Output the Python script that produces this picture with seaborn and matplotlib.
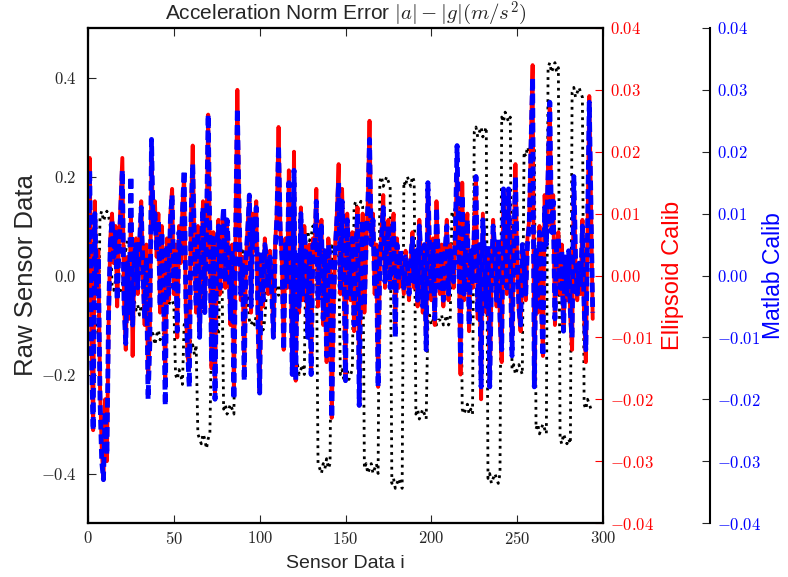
import numpy as np
import matplotlib
matplotlib.use("Agg")
import matplotlib.pyplot as plt
import seaborn as sns
from matplotlib.ticker import FuncFormatter, MultipleLocator

# Raw sensor data |a|-|g| (left axis)
raw = [
    -0.09, -0.10, -0.08, -0.11, -0.09, -0.10, -0.12,
    0.12, 0.13, 0.11, 0.12, 0.13, 0.12, 0.10,
    -0.02, -0.03, -0.01, -0.02, -0.04, -0.03, -0.02,
    0.06, 0.05, 0.07, 0.06, 0.05,
    -0.06, -0.05, -0.07, -0.06, -0.08, -0.06, -0.07, -0.05,
    -0.11, -0.12, -0.13, -0.11, -0.12, -0.14, -0.12, -0.11, -0.13, -0.12, -0.12,
    -0.05, -0.04, -0.06, -0.05, -0.05, -0.06,
    -0.20, -0.21, -0.19, -0.20, -0.22,
    -0.10, -0.09, -0.11, -0.10,
    -0.15, -0.14, -0.16, -0.14,
    -0.32, -0.33, -0.34, -0.32, -0.33, -0.35, -0.33, -0.32,
    -0.10, -0.11, -0.09, -0.10, -0.12,
    0.03, 0.02,
    -0.27, -0.26, -0.28, -0.27, -0.26, -0.27, -0.28,
    0.03, 0.04, 0.02, 0.03, 0.05,
    -0.05, -0.06, -0.04,
    -0.09, -0.10, -0.09, -0.10, -0.08, -0.09, -0.10, -0.09, -0.11, -0.09,
    -0.03, -0.02, -0.04, -0.03, -0.01, -0.03, -0.02, -0.04,
    -0.02, -0.01, -0.03, -0.02, 0.00, -0.02, -0.01, -0.03, -0.02,
    -0.19, -0.18, -0.20, -0.19, -0.18, -0.20,
    0.08, 0.09, 0.07, 0.08, 0.10, 0.08, 0.07,
    -0.38, -0.39, -0.40, -0.38, -0.39, -0.37, -0.39, -0.38,
    0.06, 0.05, 0.07, 0.06, 0.05,
    -0.20, -0.19, -0.21, -0.20, -0.19, -0.21, -0.20, -0.19,
    0.14, 0.15, 0.13, 0.14, 0.15, 0.14,
    -0.39, -0.38, -0.40, -0.39, -0.38, -0.40, -0.39, -0.38, -0.40,
    0.19, 0.20, 0.18, 0.19, 0.20, 0.19, 0.18,
    -0.42, -0.41, -0.43, -0.42, -0.41, -0.42, -0.43,
    0.19, 0.18, 0.20, 0.19, 0.18, 0.20, 0.19,
    -0.28, -0.27, -0.29, -0.28, -0.27, -0.28, -0.29,
    -0.09, -0.08, -0.10, -0.09, -0.08, -0.10, -0.09, -0.09, -0.08, -0.10, -0.09, -0.08, -0.10, -0.09,
    0.13, 0.12, 0.14, 0.13, 0.12, 0.14,
    -0.27, -0.28, -0.27, -0.26, -0.28, -0.27, -0.28,
    0.29, 0.30, 0.28, 0.29, 0.30, 0.28, 0.29, 0.30,
    -0.41, -0.40, -0.42, -0.41, -0.40, -0.41, -0.42, -0.40,
    0.32, 0.31, 0.33, 0.32, 0.31, 0.32,
    -0.19, -0.18, -0.20, -0.19, -0.18, -0.19, -0.20,
    0.25, 0.24, 0.26, 0.25, 0.24, 0.25, 0.26,
    -0.31, -0.30, -0.32, -0.31, -0.30, -0.31, -0.32,
    0.42, 0.43, 0.41, 0.42, 0.43, 0.41, 0.42,
    -0.33, -0.34, -0.32, -0.33, -0.34, -0.33, -0.34,
    0.37, 0.38, 0.36, 0.37, 0.38, 0.37, 0.36,
    -0.26, -0.27, -0.25, -0.26, -0.27,
]

# Ellipsoid calibration error, in units of 1e-3 (right red axis)
ellipsoid_e3 = [
    5, 19, -10, -25, 12, -3, 4, -18, -28, -33,
    -20, -30, -8, 6, 10, 2, 8, -5, 5, 12,
    19, -4, -12, 3, -7, 10, -13, 2, 6, -3,
    4, 12, 0, -8, 5, -17, -10, 19, 8, 12,
    3, 10, -6, 8, -2, -17, 6, -4, 10, 14,
    -3, 5, -10, 8, 2, 11, 16, -5, -13, -15,
    10, 21, 4, -6, 8, -9, 3, 12, -5, 6,
    26, 5, -15, 7, -19, 4, 9, -3, 6, 10,
    -2, 8, 2, -8, 5, -19, 8, 30, 12, -4,
    3, -16, 2, 8, 13, -6, 10, 4, 12, -8,
    -19, 3, -5, 6, 2, -3, 4, -1, -10, 5,
    10, 24, 8, 2, -12, 6, -2, 17, 4, -16,
    20, -17, 3, -6, 11, -4, 8, 2, -9, 5,
    -16, 6, 3, 14, -5, 4, 9, -8, 3, -14,
    6, 2, -23, -6, 5, 10, 18, -3, 14, 2,
    -17, 10, 1, -4, 7, -9, 3, 11, -21, 2,
    10, -6, 4, 12, 25, 6, 10, -3, 5, -18,
    2, 7, 13, -2, 4, 9, -1, 6, 10, -9,
    6, -2, 3, 0, -3, 4, 1, -4, 2, 7,
    -2, 3, -5, 9, 2, -6, 4, -12, 15, 3,
    -4, 6, -8, 12, 2, -3, 5, -5, 3, 9,
    -4, 5, 1, -2, 8, 17, 3, -16, 15, -4,
    6, 10, -9, 3, -2, 8, 16, -7, 4, -20,
    10, 2, -6, 4, -18, -2, 9, 3, -5, 5,
    -8, -14, 14, 4, -3, 14, 2, -12, 5, 18,
    2, -6, -9, 4, 1, -4, 6, 9, 22, 34,
    -18, 3, -6, 8, -4, -13, 13, 6, 18, 27,
    8, 13, -8, 4, 7, -3, 5, -9, 2, -4,
    3, -7, -12, 16, 2, -4, 1, -3, 9, -6,
    -14, 8, 29, 12, -7,
]

# Matlab calibration error, in units of 1e-3 (offset blue axis)
matlab_e3 = [
    3, 17, -12, -25, 10, -2, 3, -20, -30, -33,
    -22, -29, -6, 5, 9, 3, 7, -4, 4, 10,
    17, -5, -11, 2, -6, 16, -8, 3, 5, -2,
    5, 11, 1, -7, 3, -20, -11, 22, 7, 10,
    4, 9, -5, 7, -3, -21, 5, -3, 9, 13,
    -2, 4, -9, 7, 3, 10, 17, -4, -12, -18,
    9, 18, 5, -5, 7, -10, 4, 11, -6, 7,
    26, 6, -14, 6, -20, 5, 8, -2, 7, 11,
    -1, 9, 3, -7, 4, -20, 7, 27, 11, -3,
    2, -17, 3, 7, 13, -5, 9, 5, 11, -7,
    -19, 4, -4, 5, 3, -2, 3, -2, -10, 4,
    9, 21, 7, 3, -12, 5, -1, 15, 3, -16,
    17, -17, 4, -5, 10, -3, 7, 3, -10, 4,
    -16, 5, 4, 12, -4, 5, 8, -7, 4, -13,
    5, 3, -23, -5, 4, 9, 15, -2, 12, 3,
    -17, 9, 2, -3, 6, -8, 4, 10, -21, 3,
    9, -5, 5, 11, 22, 5, 9, -2, 4, -18,
    3, 6, 11, -1, 5, 8, -2, 5, 9, -10,
    5, -1, 4, 1, -2, 3, 2, -3, 3, 6,
    -1, 4, -4, 8, 3, -5, 5, -12, 15, 4,
    -3, 5, -7, 11, 3, -2, 4, -4, 4, 8,
    -3, 4, 2, -1, 7, 21, 4, -14, 13, -3,
    5, 9, -8, 4, -1, 7, 16, -6, 5, -18,
    9, 3, -5, 5, -18, -1, 8, 4, -4, 6,
    -7, -12, 14, 5, -2, 14, 3, -13, 4, 16,
    3, -5, -8, 5, 2, -3, 5, 8, 20, 32,
    -18, 4, -5, 7, -3, -13, 11, 5, 16, 28,
    7, 12, -7, 5, 6, -2, 4, -9, 3, -3,
    4, -6, -10, 16, 3, -3, 2, -2, 8, -5,
    -12, 7, 28, 11, -6,
]

ellipsoid = np.array(ellipsoid_e3) / 1000.0
matlab = np.array(matlab_e3) / 1000.0

sns.set_style("ticks", {"xtick.direction": "in", "ytick.direction": "in",
                        "axes.edgecolor": "black"})
plt.rcParams["font.family"] = ["Liberation Sans", "DejaVu Sans"]
plt.rcParams["mathtext.fontset"] = "cm"
plt.rcParams["axes.linewidth"] = 1.5

fig = plt.figure(figsize=(7.88, 5.77), dpi=100)
ax = fig.add_axes([88 / 788, 1 - 523 / 577, (603 - 88) / 788, (523 - 28) / 577])
ax2 = ax.twinx()
ax3 = ax.twinx()
ax3.spines["right"].set_position(("axes", 1 + 107 / 515))

sns.lineplot(x=np.arange(len(raw)), y=raw, ax=ax, color="black",
             linestyle=":", linewidth=2.0)
sns.lineplot(x=np.arange(len(ellipsoid)), y=ellipsoid, ax=ax2, color="red",
             linewidth=2.8)
sns.lineplot(x=np.arange(len(matlab)), y=matlab, ax=ax3, color="blue",
             linewidth=3.5)
ax3.lines[-1].set_dashes((2, 1))

ax.set_xlim(0, 300)
ax.set_ylim(-0.5, 0.5)
ax2.set_ylim(-0.04, 0.04)
ax3.set_ylim(-0.04, 0.04)

ax.xaxis.set_major_locator(MultipleLocator(50))
ax.yaxis.set_major_locator(MultipleLocator(0.2))
ax2.yaxis.set_major_locator(MultipleLocator(0.01))
ax3.yaxis.set_major_locator(MultipleLocator(0.01))

ax.xaxis.set_major_formatter(FuncFormatter(lambda v, p: "$%d$" % int(round(v))))
ax.yaxis.set_major_formatter(FuncFormatter(lambda v, p: "$%.1f$" % (0.0 if abs(v) < 1e-9 else v)))
fmt2 = FuncFormatter(lambda v, p: "$%.2f$" % (0.0 if abs(v) < 1e-9 else v))
ax2.yaxis.set_major_formatter(fmt2)
ax3.yaxis.set_major_formatter(fmt2)

ax.tick_params(axis="x", top=True, direction="in", length=6, labelsize=12, pad=5)
ax.tick_params(axis="y", left=True, right=False, direction="in", length=6, labelsize=12, pad=8)
ax2.tick_params(axis="y", direction="in", length=6, labelsize=12, colors="red", pad=5)
ax3.tick_params(axis="y", direction="in", length=6, labelsize=12, labelcolor="blue", pad=5)

ax.set_xlabel("Sensor Data i", fontsize=14, labelpad=6)
ax.set_ylabel("Raw Sensor Data", fontsize=18.5, labelpad=2)
ax2.set_ylabel("Ellipsoid Calib", fontsize=17, color="red", labelpad=6)
ax3.set_ylabel("Matlab Calib", fontsize=16.5, color="blue", labelpad=1)
ax.set_title("Acceleration Norm Error $|a|-|g|(m/s^2)$", fontsize=15, pad=2)

fig.savefig("out.png", dpi=100)
